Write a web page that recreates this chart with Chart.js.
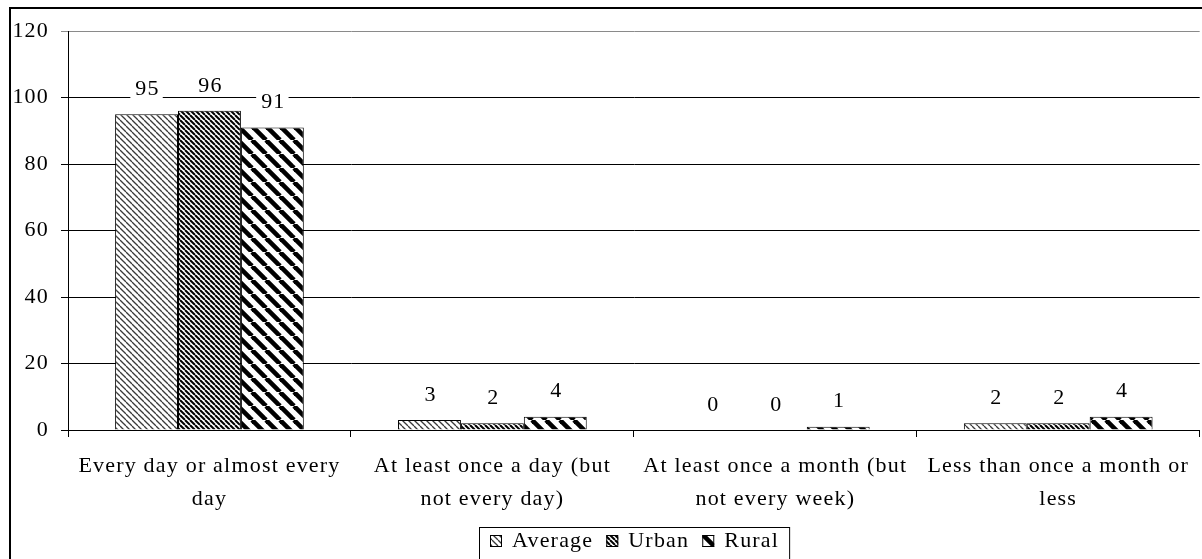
<!DOCTYPE html>
<html>
<head>
<meta charset="utf-8">
<script src="https://cdn.jsdelivr.net/npm/chart.js@4/dist/chart.umd.min.js"></script>
<style>
  html, body { margin: 0; padding: 0; background: #fff; overflow: hidden; }
  #wrap { position: relative; width: 1202px; height: 559px; }
</style>
</head>
<body>
<div id="wrap"><canvas id="c" width="1202" height="559"></canvas></div>
<script>
// Frequency categories (two-line labels)
const categories = [
  ["Every day or almost every", "day"],
  ["At least once a day (but", "not every day)"],
  ["At least once a month (but", "not every week)"],
  ["Less than once a month or", "less"]
];
const seriesNames = ["Average", "Urban", "Rural"];
const averageValues = [95, 3, 0, 2];
const urbanValues   = [96, 2, 0, 2];
const ruralValues   = [91, 4, 1, 4];
const yMin = 0, yMax = 120, yStep = 20;

const FONT = "'Liberation Serif', 'Times New Roman', serif";
const SIZE = 22;
const SPACING = '1.2px';

// Diagonal hatch fill (lines running top-left to bottom-right)
function hatch(period, width, color) {
  const c = document.createElement('canvas');
  c.width = c.height = period;
  const g = c.getContext('2d');
  g.fillStyle = '#fff';
  g.fillRect(0, 0, period, period);
  g.strokeStyle = color;
  g.lineWidth = width;
  for (const o of [-period, 0, period]) {
    g.beginPath();
    g.moveTo(o, 0);
    g.lineTo(o + period, period);
    g.stroke();
  }
  return g.createPattern(c, 'repeat');
}

const fills = [hatch(6, 1.3, '#3a3a3a'), hatch(5, 2.0, '#000'), hatch(14, 4.6, '#000')];
const seriesValues = [averageValues, urbanValues, ruralValues];

const spacingPlugin = {
  id: 'spacing',
  beforeUpdate(chart) { chart.ctx.letterSpacing = SPACING; },
  beforeDraw(chart) { chart.ctx.letterSpacing = SPACING; }
};

// Outer frame around the whole chart
const framePlugin = {
  id: 'frame',
  afterDraw(chart) {
    const ctx = chart.ctx;
    ctx.save();
    ctx.strokeStyle = '#000';
    ctx.lineWidth = 2;
    ctx.strokeRect(10, 8, 3000, 3000);
    ctx.restore();
  }
};

// Value labels above each bar on a white backing
const valueLabelPlugin = {
  id: 'valueLabels',
  afterDatasetsDraw(chart) {
    const ctx = chart.ctx;
    ctx.save();
    ctx.letterSpacing = SPACING;
    ctx.font = `${SIZE}px ${FONT}`;
    ctx.textAlign = 'center';
    ctx.textBaseline = 'middle';
    chart.data.datasets.forEach((ds, i) => {
      const meta = chart.getDatasetMeta(i);
      meta.data.forEach((bar, j) => {
        const txt = String(ds.data[j]);
        const w = ctx.measureText(txt).width;
        const x = bar.x, y = bar.y - 25;
        ctx.fillStyle = '#fff';
        ctx.fillRect(x - w / 2 - 4, y - 11, w + 8, 22);
        ctx.fillStyle = '#000';
        ctx.fillText(txt, x + 1, y);
      });
    });
    ctx.restore();
  }
};

// Boxed legend centred under the plot
const legendPlugin = {
  id: 'boxLegend',
  afterDraw(chart) {
    const ctx = chart.ctx;
    const area = chart.chartArea;
    ctx.save();
    ctx.letterSpacing = SPACING;
    ctx.font = `${SIZE}px ${FONT}`;
    ctx.textBaseline = 'middle';
    ctx.textAlign = 'left';
    const sq = 12, gapText = 10, gapItem = 13, padL = 11, padR = 10;
    const items = chart.data.datasets.map(ds => ({ label: ds.label, fill: ds.backgroundColor, w: ctx.measureText(ds.label).width }));
    let total = padL + padR;
    items.forEach((it, k) => { total += sq + gapText + it.w + (k ? gapItem : 0); });
    const left = Math.round((area.left + area.right) / 2 - total / 2);
    const top = 527, cy = 541;
    ctx.strokeStyle = '#000';
    ctx.lineWidth = 1;
    ctx.strokeRect(left + 0.5, top + 0.5, total, 60);
    let x = left + padL;
    items.forEach(it => {
      ctx.fillStyle = it.fill;
      ctx.fillRect(x, cy - sq / 2, sq, sq);
      ctx.strokeRect(x + 0.5, cy - sq / 2 + 0.5, sq - 1, sq - 1);
      ctx.fillStyle = '#000';
      ctx.fillText(it.label, x + sq + gapText, cy);
      x += sq + gapText + it.w + gapItem;
    });
    ctx.restore();
  }
};

new Chart(document.getElementById('c'), {
  type: 'bar',
  data: {
    labels: categories,
    datasets: seriesNames.map((name, i) => ({
      label: name,
      data: seriesValues[i],
      backgroundColor: fills[i],
      borderColor: '#000',
      borderWidth: 1,
      categoryPercentage: 0.667,
      barPercentage: 1.0
    }))
  },
  options: {
    responsive: false,
    animation: false,
    events: [],
    layout: { padding: { left: 0, right: 0, top: 31, bottom: 0 } },
    plugins: { legend: { display: false }, tooltip: { enabled: false } },
    scales: {
      x: {
        grid: { offset: true, drawOnChartArea: false, drawTicks: true, tickLength: 7, color: '#000', lineWidth: 1 },
        border: { display: true, color: '#000', width: 1 },
        ticks: {
          color: '#000',
          font: { family: FONT, size: SIZE, lineHeight: 33 / SIZE },
          padding: 13,
          maxRotation: 0,
          autoSkip: false
        },
        afterFit(s) { s.height = 129; }
      },
      y: {
        min: yMin,
        max: yMax,
        grid: {
          color: c => (c.tick && c.tick.value === yMax ? '#8a8a8a' : '#000'),
          lineWidth: 1,
          tickLength: 7
        },
        border: { display: true, color: '#000', width: 1 },
        ticks: {
          stepSize: yStep,
          color: '#000',
          font: { family: FONT, size: SIZE },
          padding: 12
        },
        afterFit(s) { s.width = 68; }
      }
    }
  },
  plugins: [spacingPlugin, valueLabelPlugin, legendPlugin, framePlugin]
});
</script>
</body>
</html>
